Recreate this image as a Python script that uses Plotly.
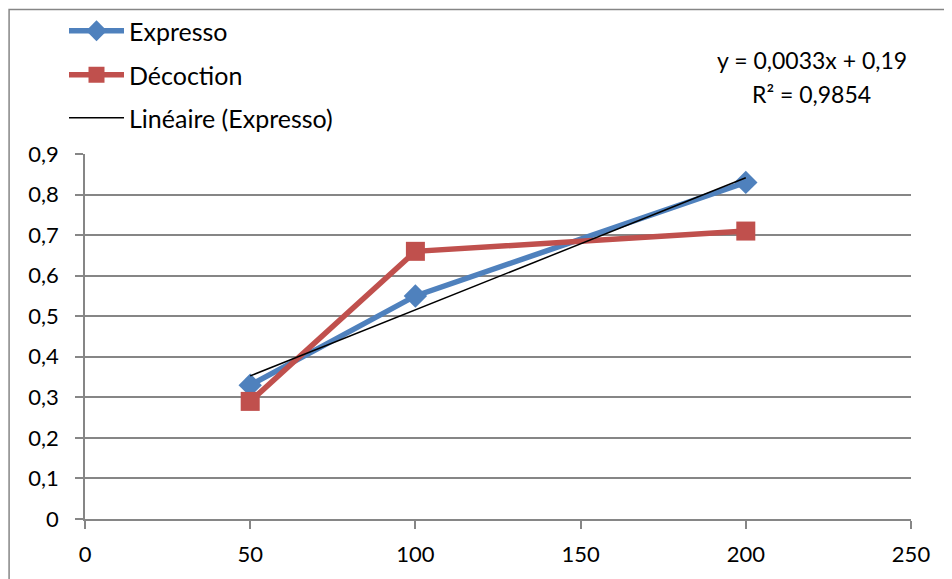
import numpy as np
import plotly.graph_objects as go

doses = [50, 100, 200]
expresso = [0.33, 0.55, 0.83]
decoction = [0.29, 0.66, 0.71]
x_ticks = [0, 50, 100, 150, 200, 250]
y_ticks = [0, 0.1, 0.2, 0.3, 0.4, 0.5, 0.6, 0.7, 0.8, 0.9]

blue = "#4F81BD"
red = "#C0504D"
grid = "#868686"
font = "Lato"

# linear trend of Expresso, like the spreadsheet trendline
slope, intercept = np.polyfit(doses, expresso, 1)
trend_x = [doses[0], doses[-1]]
trend_y = [slope * v + intercept for v in trend_x]

fig = go.Figure()
fig.add_trace(go.Scatter(
    x=doses, y=expresso, mode="lines+markers", name="Expresso",
    line=dict(color=blue, width=5.5),
    marker=dict(symbol="diamond", size=18, color=blue),
    legend="legend",
))
fig.add_trace(go.Scatter(
    x=doses, y=decoction, mode="lines+markers", name="Décoction",
    line=dict(color=red, width=5.5),
    marker=dict(symbol="square", size=19, color=red),
    legend="legend2",
))
fig.add_trace(go.Scatter(
    x=trend_x, y=trend_y, mode="lines", name="Linéaire (Expresso)",
    line=dict(color="black", width=1.5),
    legend="legend3",
))

# the page body adds 8px, so container positions are shifted back by 8
legend_style = dict(
    xref="container", yref="container", xanchor="left", yanchor="middle",
    itemwidth=55,
    bgcolor="rgba(0,0,0,0)", font=dict(family=font, size=25, color="black"),
)
lx = (64 - 8) / 952


def py(v):
    # page pixel row -> paper y of the plot area (0 at 519, 0.9 at 154)
    return (519 - v) / 365


fig.update_layout(
    width=952, height=579,
    margin=dict(l=76.5, r=48.5, t=146, b=68, autoexpand=False),
    paper_bgcolor="white", plot_bgcolor="white",
    separators=", ",
    font=dict(family=font, size=22, color="black"),
    showlegend=True,
    legend=dict(x=lx, y=1 - (31 - 8) / 579, **legend_style),
    legend2=dict(x=lx, y=1 - (75 - 8) / 579, **legend_style),
    legend3=dict(x=lx, y=1 - (118 - 8) / 579, **legend_style),
    xaxis=dict(
        range=[0, 250], tickvals=x_ticks, showgrid=False, zeroline=False,
        showline=True, linecolor=grid, linewidth=1.5,
        ticks="outside", ticklen=8, tickcolor=grid, tickwidth=1.5,
        ticklabelstandoff=7,
    ),
    yaxis=dict(
        range=[0, 0.9], tickvals=y_ticks, showgrid=True, gridcolor=grid,
        gridwidth=1.5, zeroline=False, showline=True, linecolor=grid,
        linewidth=1.5, ticks="outside", ticklen=8, tickcolor=grid,
        tickwidth=1.5, ticklabelstandoff=12,
    ),
    annotations=[
        dict(
            text="y = 0,0033x + 0,19", xref="paper", yref="paper",
            x=(812 - 84.5) / 827, y=py(60), xanchor="center", yanchor="middle",
            showarrow=False, font=dict(family=font, size=23, color="black"),
        ),
        dict(
            text="R² = 0,9854", xref="paper", yref="paper",
            x=(812 - 84.5) / 827, y=py(94), xanchor="center", yanchor="middle",
            showarrow=False, font=dict(family=font, size=23, color="black"),
        ),
    ],
    shapes=[
        dict(
            type="rect", xref="paper", yref="paper",
            x0=(8.5 - 84.5) / 827, x1=1.2, y0=-0.3, y1=py(9.5),
            line=dict(color=grid, width=1.5), layer="below",
        )
    ],
)

fig.write_html("out.html")
